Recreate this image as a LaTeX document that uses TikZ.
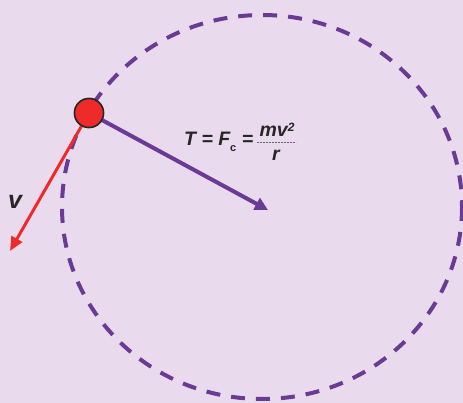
\documentclass[tikz,border=0pt]{standalone}
\usepackage{fontspec}
\setmainfont{Liberation Sans}
\usetikzlibrary{arrows.meta}
\definecolor{bgc}{HTML}{E9DBED}
\definecolor{purp}{HTML}{6B3A97}
\definecolor{redc}{HTML}{EE2A2A}
\tikzset{
  lbl/.style={font=\fontsize{19.5}{22}\selectfont\bfseries\itshape, text=black!85, inner sep=0pt},
  ballst/.style={circle, fill=redc, draw=black!85, line width=1.5pt, minimum size=29pt, inner sep=0pt},
}
\begin{document}
\begin{tikzpicture}[x=1pt,y=-1pt]
\fill[bgc] (0,0) rectangle (463,403);
\useasboundingbox (0,0) rectangle (463,403);
\coordinate (ctr) at (262,207);
\coordinate (ctip) at (268,210);
\coordinate (vtip) at (10,251);
\draw[purp, line width=4pt, dash pattern=on 14pt off 11pt] (ctr) ellipse [x radius=200, y radius=192];
\node[ballst] (ball) at (89,113) {};
\draw[purp, line width=4pt, -{Triangle[length=13pt,width=13pt]}] (ball.center) -- (ctip);
\draw[redc, line width=3pt, -{Triangle[length=14pt,width=12pt]}] (ball.center) -- (vtip);
\node[ballst] at (ball) {};
\node[lbl, font=\fontsize{25}{26}\selectfont\bfseries\itshape] (v) at (15,202) {v};
\node[lbl, anchor=base west] (tf) at (184,146) {T = F\raisebox{-6pt}{\fontsize{11}{11}\selectfont\upshape c} =};
\node[lbl, anchor=base] (num) at (277,137) {mv\raisebox{0.55ex}{\fontsize{12}{12}\selectfont 2}};
\node[lbl, anchor=base] (den) at (276,161) {r};
\draw[black!60, line width=0.8pt, dash pattern=on 2pt off 1pt] (257,142) -- (296,142);
\end{tikzpicture}
\end{document}
